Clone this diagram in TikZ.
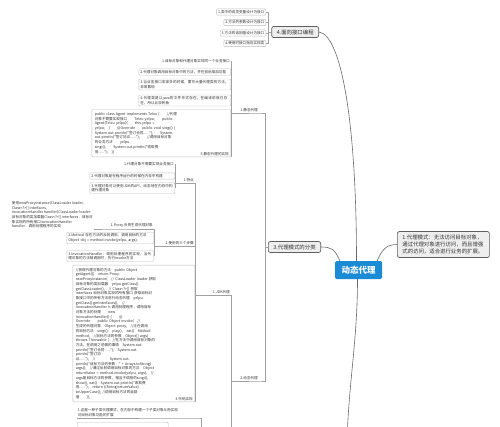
\documentclass[tikz,border=0pt]{standalone}
\usepackage{fontspec}
\usetikzlibrary{positioning, calc}
\newfontfamily\cjk{Noto Sans CJK SC}
\XeTeXlinebreaklocale "zh"
\XeTeXlinebreakskip = 0pt plus 1pt
\definecolor{rootblue}{RGB}{27,139,214}
\definecolor{topicfill}{RGB}{238,238,238}
\definecolor{topicline}{RGB}{95,95,95}
\definecolor{boxline}{RGB}{190,190,190}
\definecolor{linkgray}{RGB}{160,160,160}
\definecolor{curvegray}{RGB}{105,105,105}
\definecolor{inkgray}{RGB}{50,50,50}

\begin{document}
\begin{tikzpicture}[
    x=1pt, y=-1pt,
    centre/.style={fill=rootblue, text=white, rounded corners=1.5pt, minimum width=47pt, minimum height=18pt, inner sep=1pt, font=\cjk\bfseries\fontsize{8.5}{10}\selectfont},
    topic/.style={draw=topicline, fill=topicfill, line width=0.7pt, rounded corners=2pt, inner xsep=5pt, inner ysep=3pt, align=left, text=inkgray, font=\cjk\fontsize{5.4}{7.4}\selectfont},
    leaf/.style={draw=boxline, fill=white, rounded corners=1pt, line width=0.4pt, inner sep=1.5pt, align=left, text=inkgray, font=\cjk\fontsize{3.6}{4.6}\selectfont},
    tagtext/.style={inner sep=1pt, align=left, text=inkgray, font=\cjk\fontsize{3.6}{4.6}\selectfont},
    codebox/.style={leaf, inner sep=3pt, anchor=south east, font=\cjk\fontsize{3.6}{4.7}\selectfont},
    branch/.style={draw=linkgray, line width=0.5pt},
    mainline/.style={draw=curvegray, line width=0.6pt}
]
\useasboundingbox (0,0) rectangle (500,426);
\clip (0,0) rectangle (500,426);

% Tema centrale
\node[centre] (dt) at (358.5,270) {动态代理};

% Rami principali
\node[topic, text width=82pt, anchor=west] (def) at (397,244.5) {1.代理模式：无法访问目标对象，\\通过代理对象进行访问，而且增强\\式的访问，适合进行业务的扩展。};
\node[topic, anchor=east] (cat) at (321,247) {3.代理模式的分类};
\node[topic, anchor=east] (iface) at (319,32) {4.面向接口编程};
\coordinate (down) at (347,440);

% 4.面向接口编程
\node[leaf, anchor=east] (i1) at (266,12) {1.类中的成员变量设计为接口};
\node[leaf, anchor=east] (i2) at (266,22.5) {2.方法的参数设计为接口};
\node[leaf, anchor=east] (i3) at (266,33) {3.方法的返回值设计为接口};
\node[leaf, anchor=east] (i4) at (266,43.5) {4.使用时接口指向实现类};

% 1.静态代理
\node[tagtext, anchor=south east] (stat) at (259,113) {1.静态代理};
\node[tagtext, anchor=east] (s1) at (231,61) {1.目标对象和代理对象实现同一个业务接口};
\node[leaf, text width=89pt, anchor=east] (s2) at (231,72) {2.代理对象调用目标对象中的方法，并在前后增加功能};
\node[leaf, text width=89pt, anchor=east] (s3) at (231,84.5) {3.当业务接口非常多的时候，要写大量代理类的方法，非常繁琐};
\node[leaf, text width=89pt, anchor=east] (s4) at (231,100.5) {4.代理类是以java的文件形式存在，在编译前就已存在，所以比较死板};
\node[codebox, text width=133pt] (s5) at (231,157) {public class Agent implements Teleu \{\quad\quad //代理\\
对象不需要实现接口\quad\quad Teleu yelpu;\quad\quad public\\
Agent(Teleu yelpu)\{\quad\quad this.yelpu =\\
yelpu;\quad \}\quad\quad @Override\quad\quad public void singi() \{\\
System.out.println("签订合同......");\quad\quad System.\\
out.println("签订协议......");\quad\quad //调用目标对象\\
的业务方法\quad\quad yelpu.\\
singi();\quad\quad System.out.println("收取费\\
用......");\quad \}\}};
\node[tagtext, anchor=south east] (s5t) at ([shift={(-1,-0.5)}]s5.south east) {5.静态代理的实现};

% 2.动态代理
\node[tagtext, anchor=south east] (dyn) at (259,381) {2.动态代理};
\node[tagtext, anchor=south east] (jdk) at (231,295) {1.JDK代理};
\coordinate (cgl) at (231,470);

% 1.特点
\node[tagtext, anchor=south east] (feat) at (195,183) {1.特点};
\node[tagtext, anchor=east] (f1) at (175,164) {1.代理对象不需要实现业务接口};
\node[leaf, text width=82pt, anchor=east] (f2) at (175,176) {2.代理对象是在程序运行的时候在内存中构建};
\node[leaf, text width=82pt, anchor=east] (f3) at (175,188) {3.代理对象可以使用JDK的API，动态地在内存中构建代理对象};

% 2.使用的三个步骤
\node[tagtext, anchor=south east] (steps) at (195,246) {2.使用的三个步骤};
\node[tagtext, anchor=south east] (px) at (154,229) {1.Proxy 负责生成代理对象};
\node[tagtext, anchor=south east, font=\cjk\fontsize{3.6}{4.5}\selectfont] (pxt) at (94,229) {使用newProxyInstance(ClassLoader loader,\\Class<?>[] interfaces,\\InvocationHandler handler)ClassLoader loader:\\目标对象的类加载器Class<?>[] interfaces：目标对\\象实现的所有接口InvocationHandler\\handler：调用处理程序的实现};
\node[leaf, text width=84pt, anchor=east] (m2) at (154,238) {2.Method 存在方法的反射调用，调用目标的方法\\Object obj = method.invoke(yelpu, args);};
\node[leaf, text width=84pt, anchor=east] (m3) at (154,256) {3.InvocationHandler：调用处理程序的实现，当代理对象的方法被调用时，执行invoke方法};

% 3.代码实现
\node[codebox, text width=116pt] (jc) at (195,402) {//获得代理对象的方法\quad public Object\\
getAgent()\{\quad return Proxy.\\
newProxyInstance(\quad // ClassLoader loader 获取\\
目标对象的类加载器\quad yelpu.getClass().\\
getClassLoader(),\quad // Class<?>[] 获取\\
interfaces 目标对象实现的所有接口 获取目标对\\
象接口中的所有方法进行动态代理\quad yelpu.\\
getClass().getInterfaces(),\quad //\\
InvocationHandler h 调用处理程序，调用目标\\
对象方法的处理\qquad new\\
InvocationHandler() \{\qquad @\\
Override\qquad public Object invoke(\quad //\\
生成的代理对象\quad Object proxy,\quad //正在调用\\
的目标方法\quad singi(),\quad play(),\quad eat()\quad Method\\
method,\quad //目标方法的参数\quad Object[] args)\\
throws Throwable \{\quad //在方法中调用目标对象的\\
方法，在调用之前做的事情\quad System.out.\\
println("签订合同......");\quad System.out.\\
println("签订协\\
议......");\quad //\qquad\qquad System.out.\\
println("目标方法的参数：" + Arrays.toString(\\
args));\quad //通过反射调用目标对象的方法\quad Object\\
returnValue = method.invoke(yelpu, args);\quad //\\
args是目标方法的参数，相当于调用的singi(),\\
show(), eat()\quad System.out.println("收取费\\
用......");\quad return ((String)returnValue).\\
toUpperCase(); //调用目标方法的返回\\
值\qquad \}\};};
\node[tagtext, anchor=south east] (jct) at ([shift={(-1,-0.5)}]jc.south east) {3.代码实现};

% Cglib
\node[tagtext, text width=121pt, anchor=south east] (c1) at (200,418) {1.这是一种子类代理模式，在内存中构建一个子类对象从而实现\\对目标对象功能的扩展};
\node[leaf, text width=88pt, minimum height=14pt, anchor=north west] (c2) at (77,422) {};

% Collegamenti principali
\draw[mainline] ([xshift=-5pt]dt.north east) .. controls +(5,-12) and +(-10,0) .. (def.west);
\draw[mainline] ([xshift=5pt]dt.north west) .. controls +(-5,-12) and +(10,0) .. (cat.east);
\draw[mainline] ([xshift=-2pt]dt.north) .. controls +(0,-140) and +(22,3) .. (iface.east);
\draw[mainline] ([xshift=-1pt]dt.south) .. controls +(0,60) and +(2,-60) .. (down);

% Collegamenti 4
\draw[branch] (iface.west) -- ++(-3,0) |- (i1.east);
\draw[branch] (iface.west) -- ++(-3,0) |- (i2.east);
\draw[branch] (iface.west) -- ++(-3,0) |- (i3.east);
\draw[branch] (iface.west) -- ++(-3,0) |- (i4.east);

% Collegamenti 3
\draw[branch] (cat.west) -- ++(-3,0) |- (stat.south east) -- (stat.south west);
\draw[branch] (cat.west) -- ++(-3,0) |- (dyn.south east) -- (dyn.south west);
\draw[branch] (stat.south west) -| (s1.east);
\draw[branch] (stat.south west) -| (s2.east);
\draw[branch] (stat.south west) -| (s3.east);
\draw[branch] (stat.south west) -| (s4.east);
\draw[branch] (stat.south west) -| (s5.south east);

\draw[branch] (dyn.south west) -| (jdk.south east) -- (jdk.south west);
\draw[branch] (dyn.south west) -| (cgl);
\draw[branch] (jdk.south west) -| (feat.south east) -- (feat.south west);
\draw[branch] (jdk.south west) -| (steps.south east) -- (steps.south west);
\draw[branch] (jdk.south west) -| (jc.south east);

\draw[branch] (feat.south west) -| (f1.east);
\draw[branch] (feat.south west) -| (f2.east);
\draw[branch] (feat.south west) -| (f3.east);

\draw[branch] (steps.south west) -| (px.south east) -- (px.south west) -- (pxt.south east);
\draw[branch] (steps.south west) -| (m2.east);
\draw[branch] (steps.south west) -| (m3.east);

\draw[branch] (cgl) -- ++(-30,0) |- (c1.south east) -- (c1.south west);
\draw[branch] (cgl) -- ++(-30,0) |- (c2.east);

\end{tikzpicture}
\end{document}
